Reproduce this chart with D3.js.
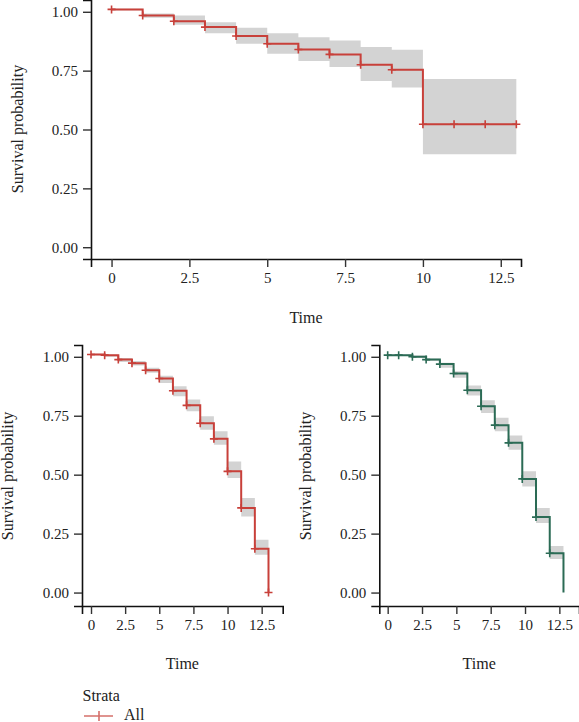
<!DOCTYPE html>
<html><head><meta charset="utf-8">
<script src="https://cdn.jsdelivr.net/npm/d3@7"></script>
<style>
html,body{margin:0;padding:0;background:#fff;}
svg{display:block;}
text{font-family:"Liberation Serif","DejaVu Serif",serif;fill:#222;}
</style></head>
<body>
<svg id="c" width="579" height="722"></svg>
<script>
// ---- data ----
const xTicks = [0, 2.5, 5, 7.5, 10, 12.5];
const xTickLabels = ["0", "2.5", "5", "7.5", "10", "12.5"];
const yTicks = [0, 0.25, 0.5, 0.75, 1];
const yTickLabels = ["0.00", "0.25", "0.50", "0.75", "1.00"];

const topTime  = [0, 1, 2, 3, 4, 5, 6, 7, 8, 9, 10, 11, 12, 13];
const topSurv  = [1.01, 0.984, 0.960, 0.935, 0.897, 0.864, 0.840, 0.819, 0.775, 0.754, 0.522, 0.522, 0.522, 0.522];
const topLower = [1.007, 0.975, 0.945, 0.909, 0.864, 0.822, 0.791, 0.765, 0.706, 0.678, 0.395, 0.395, 0.395, 0.395];
const topUpper = [1.013, 0.993, 0.984, 0.956, 0.932, 0.909, 0.892, 0.878, 0.850, 0.839, 0.714, 0.714, 0.714, 0.714];

const blTime  = [0, 1, 2, 3, 4, 5, 6, 7, 8, 9, 10, 11, 12, 13];
const blSurv  = [1.010, 1.007, 0.988, 0.973, 0.943, 0.908, 0.856, 0.794, 0.718, 0.652, 0.514, 0.359, 0.186, 0.0];
const blLower = [1.007, 1.000, 0.978, 0.963, 0.932, 0.889, 0.833, 0.769, 0.691, 0.627, 0.486, 0.323, 0.160, 0.0];
const blUpper = [1.013, 1.010, 0.995, 0.982, 0.953, 0.920, 0.875, 0.819, 0.748, 0.684, 0.556, 0.401, 0.224, 0.0];

const brTime  = [0, 0.8, 1.8, 2.8, 3.8, 4.8, 5.8, 6.8, 7.8, 8.8, 9.8, 10.8, 11.8, 12.8];
const brSurv  = [1.007, 1.007, 1.000, 0.988, 0.969, 0.929, 0.858, 0.790, 0.710, 0.635, 0.482, 0.320, 0.167, 0.0];
const brLower = [1.004, 1.004, 0.995, 0.982, 0.954, 0.911, 0.836, 0.762, 0.684, 0.606, 0.450, 0.295, 0.142, 0.0];
const brUpper = [1.010, 1.010, 1.005, 0.992, 0.975, 0.939, 0.878, 0.816, 0.741, 0.666, 0.514, 0.359, 0.198, 0.0];

const strataLabels = ["All"];
const xTitle = "Time", yTitle = "Survival probability", legendTitle = "Strata";

// ---- drawing ----
const svg = d3.select("#c");
const RED = "#c8403a", GREEN = "#2b6b55", BAND = "#d3d3d3";

function panel(cfg) {
  const g = svg.append("g");
  const x = d3.scaleLinear().domain(cfg.xd).range(cfg.xr);
  const y = d3.scaleLinear().domain(cfg.yd).range(cfg.yr);
  const pts = cfg.time.map((t, i) => ({t, s: cfg.surv[i], lo: cfg.lower[i], hi: cfg.upper[i]}));

  g.append("path").datum(pts)
    .attr("fill", BAND)
    .attr("d", d3.area().curve(d3.curveStepAfter).x(d => x(d.t)).y0(d => y(d.lo)).y1(d => y(d.hi)));

  g.append("path").datum(pts)
    .attr("fill", "none").attr("stroke", cfg.color).attr("stroke-width", 2)
    .attr("d", d3.line().curve(d3.curveStepAfter).x(d => x(d.t)).y(d => y(d.s)));

  const marks = pts.filter((d, i) => cfg.markAll || i < pts.length - 1);
  g.selectAll(".m").data(marks).enter().append("path")
    .attr("stroke", cfg.color).attr("stroke-width", 1.6).attr("fill", "none")
    .attr("d", d => { const px = x(d.t), py = y(d.s); return `M${px-4},${py}H${px+4}M${px},${py-4}V${py+4}`; });

  // axes
  const xa = g.append("g").attr("transform", `translate(0,${cfg.yr[0]})`)
    .call(d3.axisBottom(x).tickValues(xTicks).tickFormat((d, i) => xTickLabels[i]).tickSizeOuter(0).tickSize(8).tickPadding(5));
  const ya = g.append("g").attr("transform", `translate(${cfg.xr[0]},0)`)
    .call(d3.axisLeft(y).tickValues(yTicks).tickFormat((d, i) => yTickLabels[i]).tickSizeOuter(0).tickSize(8).tickPadding(5));
  [xa, ya].forEach(a => {
    a.select(".domain").attr("stroke", "#111").attr("stroke-width", 1.6);
    a.selectAll(".tick line").attr("stroke", "#333").attr("stroke-width", 1.4);
    a.selectAll(".tick text").attr("font-size", 15).attr("fill", "#222")
      .attr("font-family", "Liberation Serif, DejaVu Serif, serif");
  });

  g.append("text").attr("x", (cfg.xr[0] + cfg.xr[1]) / 2).attr("y", cfg.xTitleY)
    .attr("text-anchor", "middle").attr("font-size", 16).text(xTitle);
  g.append("text").attr("transform", `translate(${cfg.yTitleX},${cfg.yTitleCY}) rotate(-90)`)
    .attr("text-anchor", "middle").attr("font-size", 16).text(yTitle);
}

panel({time: topTime, surv: topSurv, lower: topLower, upper: topUpper, color: RED, markAll: true,
  xd: [-0.66, 13.15], xr: [91, 521], yd: [-0.05, 1.05], yr: [259, 0], xTitleY: 323, yTitleX: 23, yTitleCY: 129});
panel({time: blTime, surv: blSurv, lower: blLower, upper: blUpper, color: RED, markAll: true,
  xd: [-0.66, 14.04], xr: [82, 282.7], yd: [-0.057, 1.05], yr: [606, 345], xTitleY: 669, yTitleX: 13, yTitleCY: 476});
panel({time: brTime, surv: brSurv, lower: brLower, upper: brUpper, color: GREEN, markAll: false,
  xd: [-0.61, 13.93], xr: [379.3, 579], yd: [-0.057, 1.05], yr: [606, 345], xTitleY: 669, yTitleX: 311, yTitleCY: 476});

// legend
const lg = svg.append("g");
lg.append("text").attr("x", 82.5).attr("y", 701).attr("font-size", 16).text(legendTitle);
strataLabels.forEach((lab, i) => {
  const yy = 716 + i * 20;
  lg.append("path").attr("stroke", RED).attr("stroke-width", 1.6).attr("opacity", 0.75)
    .attr("d", `M84,${yy}H113M99,${yy-5}V${yy+5}`);
  lg.append("text").attr("x", 124).attr("y", yy + 4).attr("font-size", 16).text(lab);
});
</script>
</body></html>
